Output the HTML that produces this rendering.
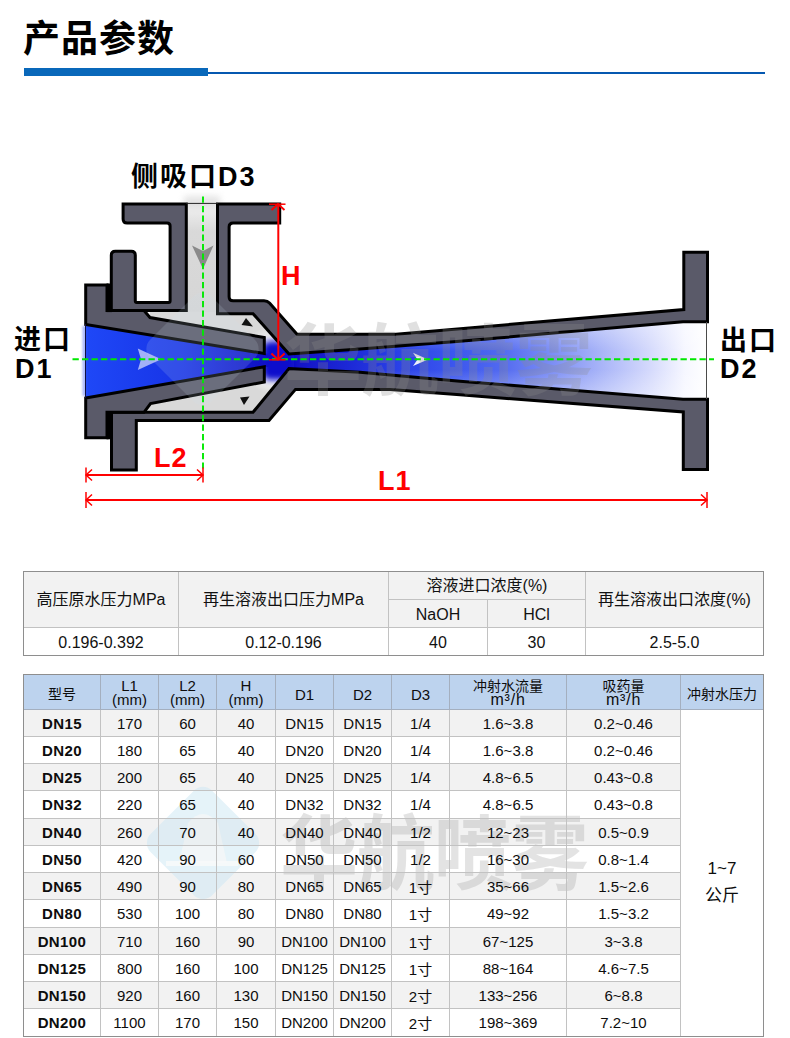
<!DOCTYPE html>
<html lang="zh-CN">
<head>
<meta charset="utf-8">
<title>产品参数</title>
<style>
html,body{margin:0;padding:0;background:#fff;}
body{font-family:"Liberation Sans","Noto Sans CJK SC",sans-serif;color:#1a1a1a;}
.page{position:relative;width:790px;height:1038px;overflow:hidden;background:#fff;}
.title{position:absolute;left:23px;top:12px;margin:0;font-size:37px;line-height:56px;font-weight:700;color:#000;letter-spacing:1px;white-space:nowrap;}
.bar{position:absolute;left:24px;top:68px;width:184px;height:8px;background:#0968ba;}
.rule{position:absolute;left:208px;top:72px;width:557px;height:2px;background:#0558b0;}
.diagram{position:absolute;left:0;top:0;}
table{border-collapse:collapse;table-layout:fixed;position:absolute;margin:0;z-index:2;}
.stripes{position:absolute;left:24px;top:674px;width:657px;height:364px;z-index:0;}
.stripes div{position:absolute;left:0;width:100%;background:#f2f2f2;}
th,td{border:1px solid #c2c2c2;padding:0;text-align:center;vertical-align:middle;font-weight:400;overflow:hidden;white-space:nowrap;}
.t1{left:23px;top:571px;width:741px;border:1px solid #888;font-size:16px;color:#111;}
.t1 .h th{background:#f2f2f2;padding-bottom:3px;}
.t1 .h th.s{padding-bottom:0;padding-top:2px;}
.t1 td{padding-top:2px;}
.t2{left:23px;top:674px;width:741px;border:1px solid #888;font-size:15px;color:#0d0d0d;}
.t2 .h th{background:#bdd3ee;border-color:#a4afbf;font-size:14px;line-height:13px;padding-top:2px;}
.t2 .h th.o{padding-top:5px;}
.t2 .h th .e{font-size:15px;}
.t2 .h th .u{font-size:16px;letter-spacing:.8px;}
.t2 td.b{font-weight:700;letter-spacing:.4px;}
.t2 td.press{font-size:17px;line-height:27px;padding-top:17px;}
.wm2{position:absolute;left:142.5px;top:783px;width:120px;height:120px;opacity:.5;pointer-events:none;z-index:1;}
.wmt2{position:absolute;left:280px;top:805px;transform:scaleY(1.05);font-size:78px;line-height:100px;font-weight:700;color:#8c8c8c;opacity:.235;white-space:nowrap;letter-spacing:-1px;pointer-events:none;z-index:1;}
.frame{position:absolute;left:23px;width:739px;border:1px solid #8e8e8e;z-index:3;pointer-events:none;}
.f1{top:571px;height:83px;}
.f2{top:674px;height:361px;}

</style>
</head>
<body>
<div class="page">
<h1 class="title">产品参数</h1>
<div class="bar"></div>
<div class="rule"></div>
<svg class="diagram" width="790" height="560" viewBox="0 0 790 560">
<defs>
  <linearGradient id="gCone" x1="85" y1="0" x2="265" y2="0" gradientUnits="userSpaceOnUse">
    <stop offset="0" stop-color="#1f48f7"/>
    <stop offset="0.55" stop-color="#1733e6"/>
    <stop offset="1" stop-color="#0f10c4"/>
  </linearGradient>
  <linearGradient id="gJet" x1="264" y1="0" x2="707" y2="0" gradientUnits="userSpaceOnUse">
    <stop offset="0" stop-color="#0f10c4"/>
    <stop offset="0.08" stop-color="#1414c6"/>
    <stop offset="0.19" stop-color="#1c28d6"/>
    <stop offset="0.31" stop-color="#2b42e8"/>
    <stop offset="0.42" stop-color="#3a55ee"/>
    <stop offset="0.53" stop-color="#5068f0"/>
    <stop offset="0.645" stop-color="#7a8cf4"/>
    <stop offset="0.76" stop-color="#a8b4f8"/>
    <stop offset="0.87" stop-color="#d4d9fc"/>
    <stop offset="0.95" stop-color="#f6f7ff"/>
    <stop offset="1" stop-color="#ffffff"/>
  </linearGradient>
  <linearGradient id="gEdge" x1="0" y1="322" x2="0" y2="399" gradientUnits="userSpaceOnUse">
    <stop offset="0" stop-color="#fff" stop-opacity="0.38"/>
    <stop offset="0.38" stop-color="#fff" stop-opacity="0"/>
    <stop offset="0.62" stop-color="#fff" stop-opacity="0"/>
    <stop offset="1" stop-color="#fff" stop-opacity="0.38"/>
  </linearGradient>
  <linearGradient id="gBore" x1="0" y1="204" x2="0" y2="312" gradientUnits="userSpaceOnUse">
    <stop offset="0" stop-color="#f2f2f2"/>
    <stop offset="0.25" stop-color="#d9d9d9"/>
    <stop offset="1" stop-color="#d6d6d6"/>
  </linearGradient>
  <radialGradient id="gGlow" cx="277" cy="360" r="28" gradientUnits="userSpaceOnUse" gradientTransform="translate(277 360) scale(0.6 1) translate(-277 -360)">
    <stop offset="0" stop-color="#1010c8" stop-opacity="1"/>
    <stop offset="0.4" stop-color="#1414cc" stop-opacity="0.97"/>
    <stop offset="0.7" stop-color="#3a3ae0" stop-opacity="0.5"/>
    <stop offset="1" stop-color="#ffffff" stop-opacity="0"/>
  </radialGradient>
  <radialGradient id="gWhite" cx="274" cy="360" r="34" gradientUnits="userSpaceOnUse">
    <stop offset="0" stop-color="#ffffff" stop-opacity="1"/>
    <stop offset="0.6" stop-color="#ffffff" stop-opacity="0.8"/>
    <stop offset="1" stop-color="#ffffff" stop-opacity="0"/>
  </radialGradient>
  <filter id="blur3" x="-50%" y="-50%" width="200%" height="200%"><feGaussianBlur stdDeviation="3"/></filter>
  <filter id="blur1" x="-50%" y="-50%" width="200%" height="200%"><feGaussianBlur stdDeviation="1.2"/></filter>
  </defs>

<!-- fluid regions -->
<rect x="186" y="204" width="32" height="109" fill="url(#gBore)"/>
<rect x="184" y="196" width="36" height="11" fill="#bdbdbd" opacity="0.4" filter="url(#blur3)"/>
<path d="M150,310.6 L253,313 L289,353.9 L289,368.6 L253,412.3 L144,412.3 L150,404 L264,382 L264,338 L150,318.5 Z" fill="#d9d9d9"/>
<path d="M150,310.6 L253,313 L289,353.9 L289,368.6 L253,412.3 L144,412.3 L150,404 L264,382 L264,338 L150,318.5 Z" fill="url(#gWhite)"/>
<path d="M264,353.5 L289,353.9 L360,348.9 L460,341.3 L683,321.7 L707,321.7 L707,399.3 L683,399.3 L460,381.2 L360,372.3 L289,368.6 L264,366.7 Z" fill="url(#gJet)"/>
<path d="M264,353.5 L289,353.9 L360,348.9 L460,341.3 L683,321.7 L707,321.7 L707,399.3 L683,399.3 L460,381.2 L360,372.3 L289,368.6 L264,366.7 Z" fill="url(#gEdge)"/>
<rect x="262" y="341" width="32" height="39" rx="8" fill="#1111cc" filter="url(#blur3)"/>
<path d="M85.7,324.5 L264.3,353.5 L264.3,366.7 L85.7,398 Z" fill="url(#gCone)"/>
<rect x="82.5" y="326" width="4" height="70" fill="#3a5cf8" opacity="0.45" filter="url(#blur1)"/>

<!-- solid parts -->
<g fill="#5a5a69" stroke="#000" stroke-width="3" stroke-linejoin="miter">
  <!-- body: upper-left -->
  <path d="M123.1,204.1 L186.3,204.1 L186.3,310.6 L111.3,310.6 L111.3,255.3 Q111.3,251.3 115.3,251.3 L131.3,251.3 Q135.3,251.3 135.3,255.3 L135.3,301 Q135.3,302.5 136.8,302.5 L168.6,302.5 Q170.1,302.5 170.1,301 L170.1,225.9 Q170.1,222.9 167.1,222.9 L127.1,222.9 Q123.1,222.9 123.1,218.9 Z"/>
  <!-- body: upper-right incl. diffuser top + outlet flange -->
  <path d="M217.5,204.1 L279.7,204.1 L279.7,222.9 L233.1,222.9 Q229.1,222.9 229.1,226.9 L229.1,296.7 Q229.1,300.7 233.1,300.7 L264,300.7 Q267.5,300.7 269.5,303 L297,334.2 L396,334.2 L683.8,309.5 L683.8,252.2 L707.5,252.2 L707.5,321.7 L683,321.7 L460,341.3 L360,348.9 L289,353.9 L253,313.7 L217.5,313.7 Z"/>
  <!-- body: lower -->
  <path d="M111.5,412.3 L253,412.3 L289,368.6 L360,372.3 L460,381.2 L683,399.3 L707.5,399.3 L707.5,469.5 L683.3,469.5 L683.3,412 L460,394.8 L390,389.4 L295.5,389.4 L269,420.4 L136.3,420.4 L136.3,470 L111.5,470 Z"/>
  <!-- nozzle upper -->
  <path d="M85.7,285 L107,285 L107,310.6 L144,310.6 L150,317.5 L264.3,337.5 L264.3,353.5 L85.7,324.5 Z"/>
  <!-- nozzle lower -->
  <path d="M85.7,398 L264.3,366.7 L264.3,382 L150.5,403.5 L144,412.3 L107,412.3 L107,437.8 L85.7,437.8 Z"/>
</g>
<rect x="106.5" y="283.5" width="5.5" height="28.6" fill="#000"/>
<rect x="106.5" y="411" width="5.5" height="28.3" fill="#000"/>
<line x1="186" y1="203.4" x2="218" y2="203.4" stroke="#222" stroke-width="1"/>
<line x1="85.5" y1="324" x2="85.5" y2="398" stroke="#101040" stroke-width="1"/>
<line x1="706.5" y1="322" x2="706.5" y2="399" stroke="#4a4a4a" stroke-width="1"/>

<!-- flow arrows -->
<path d="M192,245.5 L203,251 L213.5,245.5 L203,269 Z" fill="#8a8a8a"/>
<path d="M137.8,348.6 L161.2,359.3 L137.8,370 L141,359.3 Z" fill="#ffffff" opacity="0.6"/>
<path d="M413,352.8 L428,359.4 L413,366 L417.5,359.4 Z" fill="#ffffff" opacity="0.92"/>
<path d="M246,318 L253,326.5 L241.5,325 Z" fill="#111"/>
<path d="M240,397.5 L249.5,396.5 L244,405 Z" fill="#111"/>

<!-- watermark -->
<g opacity="0.15" transform="translate(202.5 349)"><rect x="-43.5" y="-43.5" width="87" height="87" rx="13" ry="13" transform="rotate(45)" fill="#cfe2ee"/></g>
<text x="284" y="389" font-family="'Liberation Sans','Noto Sans CJK SC',sans-serif" font-size="78" font-weight="700" letter-spacing="-1" fill="#8c8c8c" opacity="0.26">华航喷雾</text>

<!-- centre lines -->
<g stroke="#00e800" stroke-width="1.9" fill="none" >
  <line x1="72.5" y1="359.3" x2="714" y2="359.3" stroke-dasharray="6.3 3.2"/>
  <line x1="203" y1="196.5" x2="203" y2="468.5" stroke-dasharray="6.3 3.2"/>
</g>

<!-- dimensions -->
<g stroke="#ff0000" stroke-width="2" fill="none">
  <line x1="278.3" y1="204" x2="278.3" y2="359.5"/>
  <line x1="269" y1="204.2" x2="285.5" y2="204.2" stroke-width="1.5"/>
  <path d="M271.5,210 L278,204 L284.5,210" stroke-width="1.8"/>
  <path d="M271.4,353.5 L278,359.5 L284.6,353.5" stroke-width="2"/>
  <line x1="269" y1="359.8" x2="285.5" y2="359.8" stroke-width="1.5"/>
  <line x1="86" y1="475" x2="203" y2="475"/>
  <line x1="86" y1="467.5" x2="86" y2="482.5" stroke-width="1.5"/>
  <line x1="203" y1="467.5" x2="203" y2="482.5" stroke-width="1.5"/>
  <path d="M92,469.5 L86,475 L92,480.5" stroke-width="1.5"/>
  <path d="M197,469.5 L203,475 L197,480.5" stroke-width="1.5"/>
  <line x1="86" y1="500" x2="707" y2="500"/>
  <line x1="86" y1="492" x2="86" y2="508" stroke-width="1.5"/>
  <line x1="707" y1="492" x2="707" y2="508" stroke-width="1.5"/>
  <path d="M92,494.5 L86,500 L92,505.5" stroke-width="1.5"/>
  <path d="M701,494.5 L707,500 L701,505.5" stroke-width="1.5"/>
</g>

<!-- labels -->
<g font-family="'Liberation Sans','Noto Sans CJK SC',sans-serif" font-weight="700" font-size="27" letter-spacing="2">
  <text x="131" y="186" fill="#000">侧吸口D3</text>
  <text x="14" y="349" fill="#000">进口</text>
  <text x="15" y="377.5" fill="#000">D1</text>
  <text x="720" y="349.5" fill="#000">出口</text>
  <text x="720" y="377.5" fill="#000">D2</text>
  <text x="281" y="284.5" fill="#ff0000" letter-spacing="0">H</text>
  <text x="154" y="467" fill="#ff0000" letter-spacing="1">L2</text>
  <text x="378" y="490" fill="#ff0000" letter-spacing="1">L1</text>
</g>
</svg>

<table class="t1">
<colgroup><col style="width:155px"><col style="width:210px"><col style="width:99px"><col style="width:98px"><col style="width:178px"></colgroup>
<tr class="h" style="height:28px"><th rowspan="2">高压原水压力MPa</th><th rowspan="2">再生溶液出口压力MPa</th><th colspan="2">溶液进口浓度(%)</th><th rowspan="2">再生溶液出口浓度(%)</th></tr>
<tr class="h" style="height:28px"><th class="s">NaOH</th><th class="s">HCl</th></tr>
<tr style="height:28px"><td>0.196-0.392</td><td>0.12-0.196</td><td>40</td><td>30</td><td>2.5-5.0</td></tr>
</table>
<div class="stripes"><div style="top:35px;height:27px"></div><div style="top:89px;height:27px"></div><div style="top:144px;height:27px"></div><div style="top:198px;height:27px"></div><div style="top:253px;height:27px"></div><div style="top:307px;height:27px"></div></div>
<div class="wm2"><svg width="120" height="120" viewBox="-60 -60 120 120"><rect x="-43.5" y="-43.5" width="87" height="87" rx="13" ry="13" transform="rotate(45)" fill="#cde8f4"/><path d="M-24,20 L-15,-20 Q0,-38 15,-20 L24,20 Z" fill="#eef1f2" opacity="0.75"/><rect x="-37" y="18" width="72" height="5" fill="#f4f6f7" opacity="0.8"/></svg></div>
<div class="wmt2">华航喷雾</div>
<table class="t2">
<colgroup><col style="width:77px"><col style="width:58px"><col style="width:58px"><col style="width:59px"><col style="width:58px"><col style="width:58px"><col style="width:58px"><col style="width:117px"><col style="width:114px"><col style="width:83px"></colgroup>
<tr class="h" style="height:35px"><th class="o">型号</th><th><span class="e">L1<br>(mm)</span></th><th><span class="e">L2<br>(mm)</span></th><th><span class="e">H<br>(mm)</span></th><th class="o"><span class="e">D1</span></th><th class="o"><span class="e">D2</span></th><th class="o"><span class="e">D3</span></th><th>冲射水流量<br><span class="u">m³/h</span></th><th>吸药量<br><span class="u">m³/h</span></th><th class="o">冲射水压力</th></tr>
<tr class="g" style="height:27px"><td class="b">DN15</td><td>170</td><td>60</td><td>40</td><td>DN15</td><td>DN15</td><td>1/4</td><td>1.6~3.8</td><td>0.2~0.46</td><td rowspan="12" class="press">1~7<br>公斤</td></tr>
<tr class="w" style="height:27px"><td class="b">DN20</td><td>180</td><td>65</td><td>40</td><td>DN20</td><td>DN20</td><td>1/4</td><td>1.6~3.8</td><td>0.2~0.46</td></tr>
<tr class="g" style="height:27px"><td class="b">DN25</td><td>200</td><td>65</td><td>40</td><td>DN25</td><td>DN25</td><td>1/4</td><td>4.8~6.5</td><td>0.43~0.8</td></tr>
<tr class="w" style="height:28px"><td class="b">DN32</td><td>220</td><td>65</td><td>40</td><td>DN32</td><td>DN32</td><td>1/4</td><td>4.8~6.5</td><td>0.43~0.8</td></tr>
<tr class="g" style="height:27px"><td class="b">DN40</td><td>260</td><td>70</td><td>40</td><td>DN40</td><td>DN40</td><td>1/2</td><td>12~23</td><td>0.5~0.9</td></tr>
<tr class="w" style="height:27px"><td class="b">DN50</td><td>420</td><td>90</td><td>60</td><td>DN50</td><td>DN50</td><td>1/2</td><td>16~30</td><td>0.8~1.4</td></tr>
<tr class="g" style="height:27px"><td class="b">DN65</td><td>490</td><td>90</td><td>80</td><td>DN65</td><td>DN65</td><td>1寸</td><td>35~66</td><td>1.5~2.6</td></tr>
<tr class="w" style="height:28px"><td class="b">DN80</td><td>530</td><td>100</td><td>80</td><td>DN80</td><td>DN80</td><td>1寸</td><td>49~92</td><td>1.5~3.2</td></tr>
<tr class="g" style="height:27px"><td class="b">DN100</td><td>710</td><td>160</td><td>90</td><td>DN100</td><td>DN100</td><td>1寸</td><td>67~125</td><td>3~3.8</td></tr>
<tr class="w" style="height:27px"><td class="b">DN125</td><td>800</td><td>160</td><td>100</td><td>DN125</td><td>DN125</td><td>1寸</td><td>88~164</td><td>4.6~7.5</td></tr>
<tr class="g" style="height:27px"><td class="b">DN150</td><td>920</td><td>160</td><td>130</td><td>DN150</td><td>DN150</td><td>2寸</td><td>133~256</td><td>6~8.8</td></tr>
<tr class="w" style="height:28px"><td class="b">DN200</td><td>1100</td><td>170</td><td>150</td><td>DN200</td><td>DN200</td><td>2寸</td><td>198~369</td><td>7.2~10</td></tr>
</table>
<div class="frame f1"></div>
<div class="frame f2"></div>
</div>
</body>
</html>
